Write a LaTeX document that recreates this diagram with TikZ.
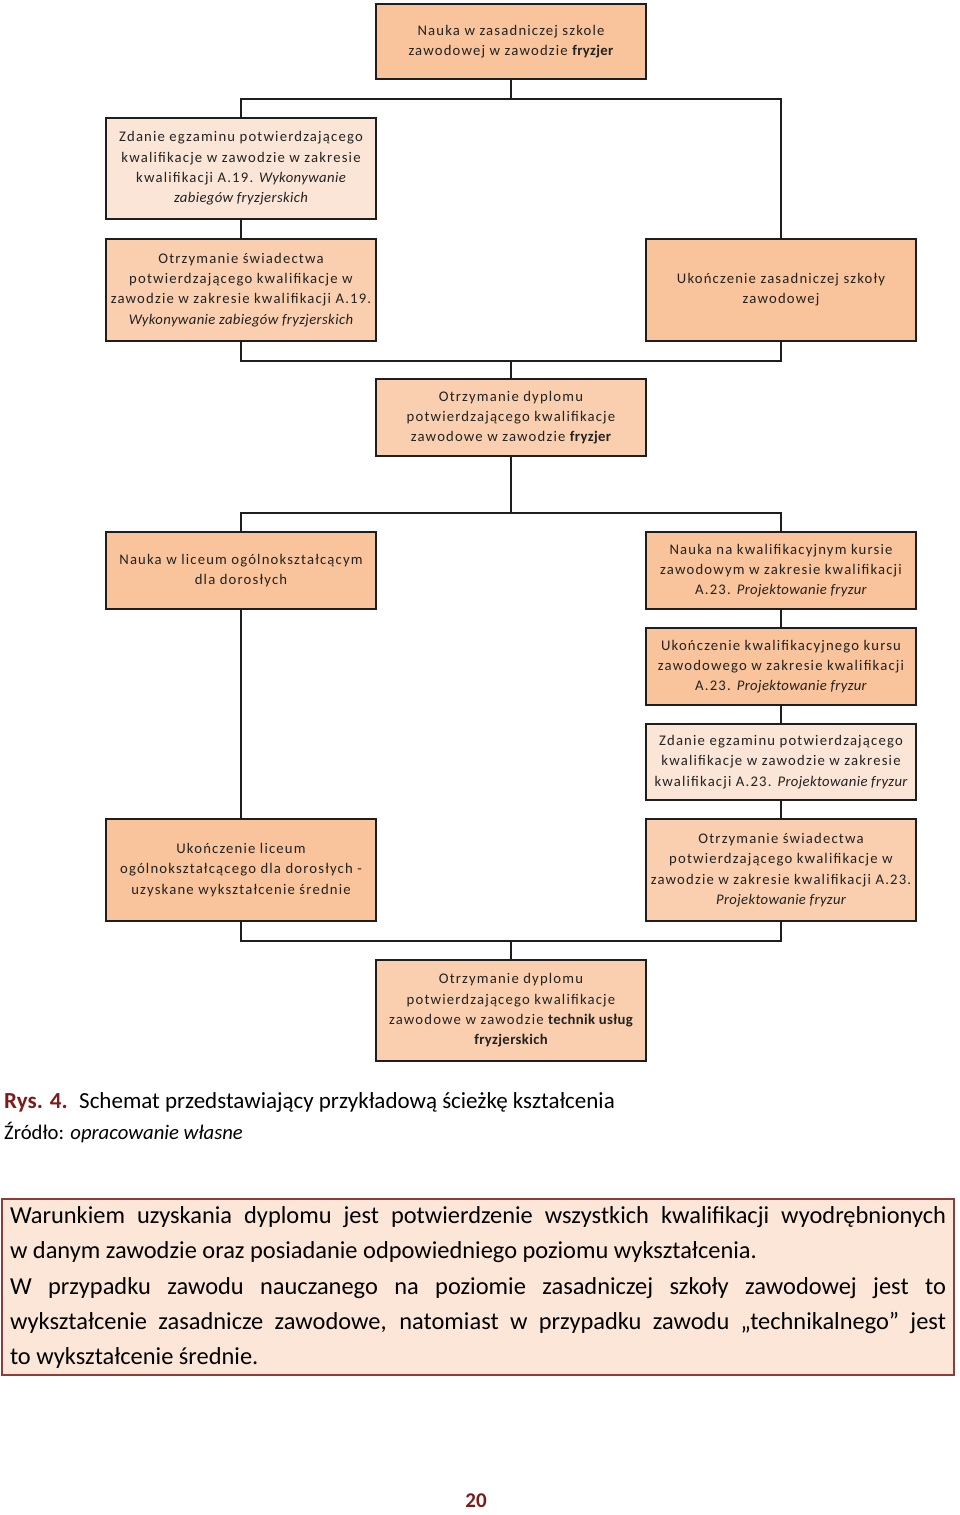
\documentclass[tikz,border=0pt]{standalone}
\usepackage{fontspec}
\setmainfont{Carlito}
\newfontfamily\boxfont[LetterSpace=8]{Carlito}
\newfontfamily\plainfont[LetterSpace=2.5]{Carlito}
\newcommand{\emi}[1]{{\plainfont\itshape #1}}
\newcommand{\emb}[1]{{\plainfont\bfseries #1}}
\definecolor{cStrong}{HTML}{F9C49B}
\definecolor{cMid}{HTML}{F9CFAF}
\definecolor{cLight}{HTML}{FBE5D6}
\definecolor{linec}{HTML}{1E1E1E}
\definecolor{boxtxt}{HTML}{222222}
\definecolor{noteFill}{HTML}{FCE6D8}
\definecolor{noteLine}{HTML}{8E3B3B}
\definecolor{capRed}{HTML}{7E1A1A}
\begin{document}
\begin{tikzpicture}[x=1pt,y=-1pt,
  box/.style={draw=linec, line width=1.6pt, minimum width=270pt, inner sep=1pt,
    align=center, text=boxtxt, font=\boxfont\fontsize{14.7}{20.3}\selectfont},
  sbox/.style={box, fill=cStrong},
  mbox/.style={box, fill=cMid},
  lbox/.style={box, fill=cLight},
  conn/.style={draw=linec, line width=1.6pt}]
\useasboundingbox (0,0) rectangle (960,1515);

\node[sbox, minimum height=75pt] (top) at (511,41.5)
  {Nauka w zasadniczej szkole\\zawodowej w zawodzie \emb{fryzjer}};
\node[lbox, minimum height=101pt] (zda19) at (241,168.5)
  {Zdanie egzaminu potwierdzającego\\kwalifikacje w zawodzie w zakresie\\kwalifikacji A.19. \emi{Wykonywanie}\\\emi{zabiegów fryzjerskich}};
\node[mbox, minimum height=102pt] (sw19) at (241,290)
  {Otrzymanie świadectwa\\potwierdzającego kwalifikacje w\\zawodzie w zakresie kwalifikacji A.19.\\\emi{Wykonywanie zabiegów fryzjerskich}};
\node[sbox, minimum height=102pt] (ukzsz) at (781,290)
  {Ukończenie zasadniczej szkoły\\zawodowej};
\node[mbox, minimum height=77pt] (dypl1) at (511,417.5)
  {Otrzymanie dyplomu\\potwierdzającego kwalifikacje\\zawodowe w zawodzie \emb{fryzjer}};
\node[sbox, minimum height=77pt] (lic) at (241,570.5)
  {Nauka w liceum ogólnokształcącym\\dla dorosłych};
\node[sbox, minimum height=77pt] (kurs) at (781,570.5)
  {Nauka na kwalifikacyjnym kursie\\zawodowym w zakresie kwalifikacji\\A.23. \emi{Projektowanie fryzur}};
\node[sbox, minimum height=77pt] (ukkurs) at (781,666.5)
  {Ukończenie kwalifikacyjnego kursu\\zawodowego w zakresie kwalifikacji\\A.23. \emi{Projektowanie fryzur}};
\node[lbox, minimum height=76pt] (zda23) at (781,762)
  {Zdanie egzaminu potwierdzającego\\kwalifikacje w zawodzie w zakresie\\kwalifikacji A.23. \emi{Projektowanie fryzur}};
\node[sbox, minimum height=102pt] (uklic) at (241,870)
  {Ukończenie liceum\\ogólnokształcącego dla dorosłych -\\uzyskane wykształcenie średnie};
\node[mbox, minimum height=102pt] (sw23) at (781,870)
  {Otrzymanie świadectwa\\potwierdzającego kwalifikacje w\\zawodzie w zakresie kwalifikacji A.23.\\\emi{Projektowanie fryzur}};
\node[mbox, minimum height=101pt] (dypl2) at (511,1010.5)
  {Otrzymanie dyplomu\\potwierdzającego kwalifikacje\\zawodowe w zawodzie \emb{technik usług}\\\emb{fryzjerskich}};

\coordinate (bus1) at (511,99);
\coordinate (bus2) at (511,361);
\coordinate (bus3) at (511,513);
\coordinate (bus4) at (511,941);

\draw[conn] (top.south) -- (bus1);
\draw[conn] (zda19.north) |- (bus1) -| (ukzsz.north);
\draw[conn] (zda19.south) -- (sw19.north);
\draw[conn] (sw19.south) |- (bus2) -| (ukzsz.south);
\draw[conn] (bus2) -- (dypl1.north);
\draw[conn] (dypl1.south) -- (bus3);
\draw[conn] (lic.north) |- (bus3) -| (kurs.north);
\draw[conn] (kurs.south) -- (ukkurs.north);
\draw[conn] (ukkurs.south) -- (zda23.north);
\draw[conn] (zda23.south) -- (sw23.north);
\draw[conn] (lic.south) -- (uklic.north);
\draw[conn] (uklic.south) |- (bus4) -| (sw23.south);
\draw[conn] (bus4) -- (dypl2.north);

\node[anchor=west, inner sep=0pt, font=\fontsize{23}{27}\selectfont] (cap) at (4,1102)
  {\textcolor{capRed}{\textbf{Rys. 4.}}\hspace{0.5em}Schemat przedstawiający przykładową ścieżkę kształcenia};
\node[anchor=west, inner sep=0pt, font=\fontsize{20.7}{25}\selectfont] (src) at (4,1133)
  {Źródło: \textit{opracowanie własne}};

\node[draw=noteLine, fill=noteFill, line width=1.2pt, minimum width=952pt, minimum height=176pt, inner sep=0pt] (notebox) at (478,1287) {};
\node[anchor=center, inner sep=0pt, text width=936pt, align=justify,
  font=\fontsize{24.4}{35.3}\selectfont] (note) at (478,1287.5)
  {Warunkiem uzyskania dyplomu jest potwierdzenie wszystkich kwalifikacji wyodrębnionych\linebreak
   w danym zawodzie oraz posiadanie odpowiedniego poziomu wykształcenia.\par
   W przypadku zawodu nauczanego na poziomie zasadniczej szkoły zawodowej jest to\linebreak
   wykształcenie zasadnicze zawodowe, natomiast w przypadku zawodu „technikalnego” jest\linebreak
   to wykształcenie średnie.};

\node[inner sep=0pt, text=capRed, font=\bfseries\fontsize{21}{25}\selectfont] (pnum) at (476,1501) {20};
\end{tikzpicture}
\end{document}
